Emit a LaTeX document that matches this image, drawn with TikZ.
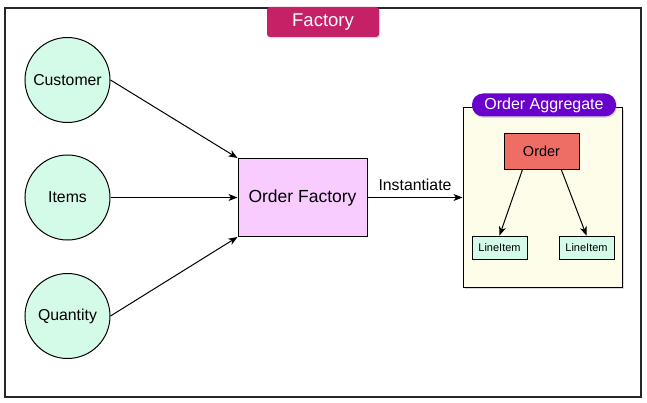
\documentclass[tikz,border=0pt]{standalone}
\usepackage{fontspec}
\setmainfont{Liberation Sans}
\usetikzlibrary{arrows.meta,shadows,calc}
\definecolor{factorypink}{RGB}{196,33,102}
\definecolor{aggpurple}{RGB}{106,0,204}
\definecolor{mintfill}{RGB}{212,250,232}
\definecolor{pinkfill}{RGB}{249,204,255}
\definecolor{creamfill}{RGB}{253,253,234}
\definecolor{orderred}{RGB}{238,110,102}
\begin{document}
\begin{tikzpicture}[x=1pt,y=-1pt,
  input/.style={circle,draw,line width=1pt,fill=mintfill,minimum size=85pt,inner sep=0pt,font=\fontsize{15.8}{18}\selectfont},
  tag/.style={text=white,inner sep=0pt,drop shadow={opacity=0.25,shadow xshift=1pt,shadow yshift=-1.5pt}},
  part/.style={draw,line width=0.8pt,fill=mintfill,minimum width=55pt,minimum height=23pt,inner sep=0pt,font=\fontsize{11}{13}\selectfont},
  link/.style={-{Stealth[length=9pt,width=7pt,inset=2.5pt]},line width=1pt}
]
  % Fix the page to the reference size
  \useasboundingbox (0,0) rectangle (647,403);

  % Outer frame
  \draw[line width=1.4pt,black!85] (5,8) rectangle (641,397);

  % Inputs on the left
  \node[input] (cust) at (67.5,80) {Customer};
  \node[input] (items) at (67.5,197.5) {Items};
  \node[input] (qty) at (67.5,316) {Quantity};

  % The factory box
  \node[draw,line width=1pt,fill=pinkfill,minimum width=129pt,minimum height=78pt,
        font=\fontsize{17.5}{20}\selectfont] (fac) at (302.5,197.5) {Order Factory};

  % Aggregate container and its parts
  \node[draw,line width=1pt,fill=creamfill,minimum width=159pt,minimum height=180pt,
        drop shadow={opacity=0.3,shadow xshift=1.5pt,shadow yshift=-1.5pt}] (agg) at (542.5,197.5) {};
  \node[draw,line width=0.8pt,fill=orderred,minimum width=75pt,minimum height=36pt,
        font=\fontsize{14.5}{17}\selectfont] (order) at (541.5,151) {Order};
  \node[part] (li1) at (499.5,247.5) {LineItem};
  \node[part] (li2) at (586.5,247.5) {LineItem};

  % Title tags
  \node[tag,fill=factorypink,rounded corners=3pt,minimum width=112pt,minimum height=30pt,
        font=\fontsize{18.5}{21}\selectfont] (ftag) at (323,22) {Factory};
  \node[tag,fill=aggpurple,rounded corners=11pt,minimum width=144pt,minimum height=23pt,
        font=\fontsize{16}{19}\selectfont] (atag) at (544,105) {Order Aggregate};

  % Connectors
  \draw[link] (cust.east) -- (fac.north west);
  \draw[link] (items.east) -- (fac.west);
  \draw[link] (qty.east) -- (fac.south west);
  \draw[link] (fac.east) -- node[above=3pt,font=\fontsize{15.8}{18}\selectfont] {Instantiate} (agg.west);
  \draw[link] ($(order.south west)!0.25!(order.south east)$) -- (li1.north);
  \draw[link] ($(order.south west)!0.76!(order.south east)$) -- (li2.north);

\end{tikzpicture}
\end{document}
